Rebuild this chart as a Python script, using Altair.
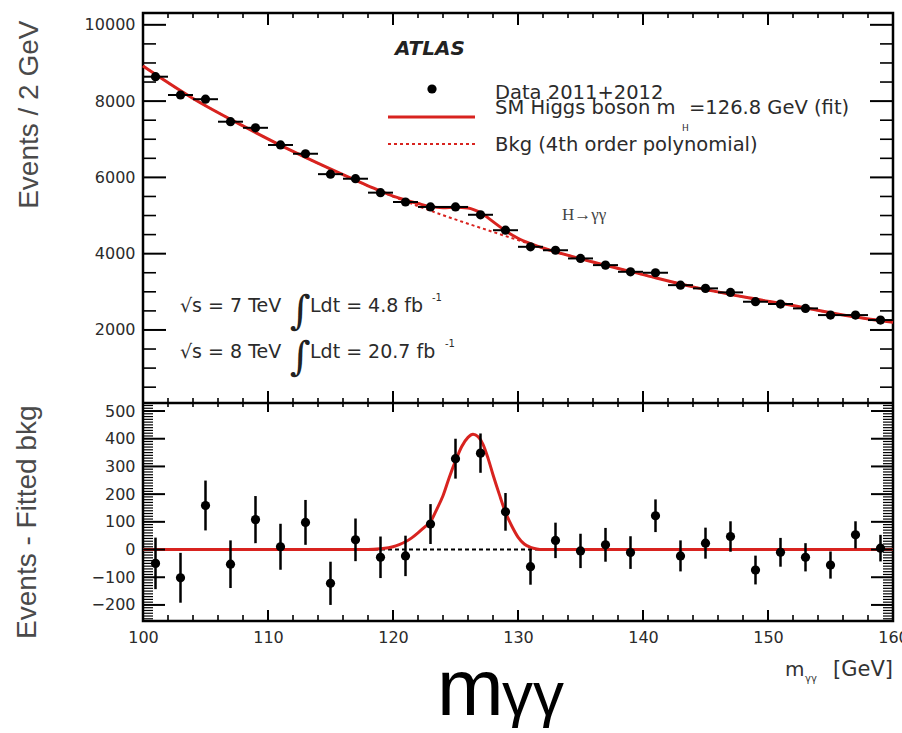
import altair as alt
import pandas as pd

# ---------------- data ----------------
mass = [101, 103, 105, 107, 109, 111, 113, 115, 117, 119, 121, 123, 125, 127, 129,
        131, 133, 135, 137, 139, 141, 143, 145, 147, 149, 151, 153, 155, 157, 159]
events = [8640, 8160, 8050, 7460, 7300, 6850, 6620, 6085, 5965, 5600, 5355, 5225, 5225, 5020, 4615,
          4180, 4090, 3875, 3700, 3525, 3500, 3175, 3090, 2985, 2740, 2680, 2565, 2390, 2390, 2260]
residual = [-50, -102, 159, -53, 108, 10, 98, -122, 35, -28, -23, 92, 328, 348, 136,
            -62, 33, -5, 17, -11, 122, -23, 23, 47, -74, -10, -28, -56, 53, 5]
residual_err = [93, 90, 90, 86, 85, 83, 81, 78, 77, 75, 73, 72, 72, 71, 68,
                65, 64, 62, 61, 59, 59, 56, 56, 55, 52, 52, 51, 49, 49, 48]

bkg_x = [100, 104, 108, 112, 116, 120, 124, 128, 132, 136, 140, 144, 148, 152, 156, 160]
bkg_y = [8920, 8070, 7350, 6680, 6070, 5500, 5010, 4570, 4150, 3780, 3450, 3130, 2870, 2640, 2390, 2200]

fit_x = [100, 104, 108, 112, 116, 118, 120, 121, 122, 123, 124, 125, 126, 126.5, 127, 128, 129,
         130, 131, 132, 136, 140, 144, 148, 152, 156, 160]
fit_y = [8920, 8070, 7350, 6680, 6070, 5780, 5510, 5406, 5315, 5233, 5204, 5220, 5195, 5149, 5075,
         4840, 4599, 4405, 4263, 4150, 3780, 3450, 3130, 2870, 2640, 2390, 2200]

sig_x = [100, 118, 119, 120, 120.5, 121, 121.5, 122, 122.5, 123, 123.5, 124, 124.5, 125, 125.5,
         126, 126.4, 126.8, 127.2, 127.6, 128, 128.5, 129, 129.5, 130, 130.5, 131, 131.5, 132, 160]
sig_y = [0, 0, 3, 10, 18, 28, 42, 60, 80, 100, 145, 194, 260, 320, 372,
         405, 416, 408, 380, 330, 270, 200, 134, 85, 45, 20, 8, 2, 0, 0]

top_y_labels = [2000, 4000, 6000, 8000, 10000]
bot_y_labels = [-200, -100, 0, 100, 200, 300, 400, 500]
x_labels = [100, 110, 120, 130, 140, 150, 160]

# ---------------- layout / style ----------------
W = 750          # plot width
H = 608          # both panels
H_TOP = 390      # upper panel height (lower panel: 218)
RED = "#d8231f"
LF = "DejaVu Sans"
TXT = "#2b2b2b"

xs = alt.Scale(domain=[100, 160], nice=False, zero=False)
# upper panel shows 85..10310 in the top 390 px; lower panel -258..529 in the bottom 218 px
ys_top = alt.Scale(domain=[-5630.5, 10310], nice=False, zero=False)
ys_bot = alt.Scale(domain=[-258, 1936.9], nice=False, zero=False)

top_yaxis = alt.Axis(orient="left", values=top_y_labels, format="d", ticks=False, tickSize=0, domain=False,
                     grid=False, labelFont=LF, labelFontSize=16, labelColor=TXT, labelPadding=8,
                     title="Events / 2 GeV", titleFont="Liberation Sans", titleFontSize=28,
                     titleFontWeight="normal", titleColor="#4a4a4a", titleAngle=270,
                     titleAlign="right", titleBaseline="top", titleX=-128, titleY=7)
bot_yaxis = alt.Axis(orient="left", values=bot_y_labels, format="d", ticks=False, tickSize=0, domain=False,
                     grid=False, labelFont=LF, labelFontSize=16, labelColor=TXT, labelPadding=8,
                     title="Events - Fitted bkg", titleFont="Liberation Sans", titleFontSize=28,
                     titleFontWeight="normal", titleColor="#4a4a4a", titleAngle=270,
                     titleAlign="right", titleBaseline="top", titleX=-130, titleY=392)
xaxis = alt.Axis(values=x_labels, format="d", ticks=False, tickSize=0, domain=False, grid=False,
                 labelFont=LF, labelFontSize=16, labelColor=TXT, labelPadding=8,
                 labelFlush=False, labelOverlap=False, title=None)

one = pd.DataFrame({"a": [0]})


def label(text, x, y, size, font=LF, color=TXT, align="left", weight="normal", style="normal"):
    return alt.Chart(one).mark_text(
        text=text, align=align, baseline="alphabetic", font=font, fontSize=size,
        color=color, fontWeight=weight, fontStyle=style
    ).encode(x=alt.value(x), y=alt.value(y))


def yticks(values, scale, length, width=2):
    df = pd.DataFrame({"v": values})
    left = alt.Chart(df).mark_rule(color="black", strokeWidth=width).encode(
        y=alt.Y("v:Q", scale=scale, axis=None), x=alt.value(0), x2=alt.value(length))
    right = alt.Chart(df).mark_rule(color="black", strokeWidth=width).encode(
        y=alt.Y("v:Q", scale=scale, axis=None), x=alt.value(W), x2=alt.value(W - length))
    return [left, right]


def xticks(values, y_edge, length, width=2):
    df = pd.DataFrame({"v": values})
    return alt.Chart(df).mark_rule(color="black", strokeWidth=width).encode(
        x=alt.X("v:Q", scale=xs, axis=xaxis), y=alt.value(y_edge), y2=alt.value(y_edge + length))


x_major = [110, 120, 130, 140, 150]
x_minor = [v for v in range(102, 160, 2) if v % 10 != 0]
top_minor = [v for v in range(500, 10300, 500) if v % 2000 != 0]
bot_minor = [v for v in range(-250, 530, 10) if v % 100 != 0]

# ---------------- upper panel ----------------
pts = pd.DataFrame({"m": mass, "n": events})
bkg = pd.DataFrame({"x": bkg_x, "y": bkg_y})
fit = pd.DataFrame({"x": fit_x, "y": fit_y})

bkg_line = alt.Chart(bkg).mark_line(color=RED, strokeWidth=2, strokeDash=[3, 3], interpolate="monotone").encode(
    x=alt.X("x:Q", scale=xs, axis=xaxis), y=alt.Y("y:Q", scale=ys_top, axis=top_yaxis))
fit_line = alt.Chart(fit).mark_line(color=RED, strokeWidth=3, interpolate="monotone").encode(
    x=alt.X("x:Q", scale=xs, axis=xaxis), y=alt.Y("y:Q", scale=ys_top, axis=None))
hbars = alt.Chart(pts).transform_calculate(lo="datum.m - 1", hi="datum.m + 1").mark_rule(
    color="black", strokeWidth=2).encode(
    x=alt.X("lo:Q", scale=xs, axis=xaxis), x2="hi:Q", y=alt.Y("n:Q", scale=ys_top, axis=None))
dots = alt.Chart(pts).mark_circle(color="black", size=85, opacity=1).encode(
    x=alt.X("m:Q", scale=xs, axis=xaxis), y=alt.Y("n:Q", scale=ys_top, axis=None))

# ---------------- lower panel ----------------
res = pd.DataFrame({"m": mass, "r": residual, "e": residual_err})
sig = pd.DataFrame({"x": sig_x, "y": sig_y})

zero = alt.Chart(pd.DataFrame({"z": [0]})).mark_rule(color="black", strokeWidth=2, strokeDash=[4, 3]).encode(
    y=alt.Y("z:Q", scale=ys_bot, axis=bot_yaxis), x=alt.value(0), x2=alt.value(W))
sig_line = alt.Chart(sig).mark_line(color=RED, strokeWidth=3, interpolate="monotone").encode(
    x=alt.X("x:Q", scale=xs, axis=xaxis), y=alt.Y("y:Q", scale=ys_bot, axis=None))
vbars = alt.Chart(res).transform_calculate(lo="datum.r - datum.e", hi="datum.r + datum.e").mark_rule(
    color="black", strokeWidth=2.5).encode(
    x=alt.X("m:Q", scale=xs, axis=xaxis), y=alt.Y("lo:Q", scale=ys_bot, axis=None), y2="hi:Q")
rdots = alt.Chart(res).mark_circle(color="black", size=85, opacity=1).encode(
    x=alt.X("m:Q", scale=xs, axis=xaxis), y=alt.Y("r:Q", scale=ys_bot, axis=None))

layers = [bkg_line, fit_line, hbars, dots, zero, sig_line, vbars, rdots]

# frame ticks (inside, ROOT style)
layers += yticks(top_y_labels, ys_top, 23, width=2)
layers += yticks(top_minor, ys_top, 13, width=1.6)
layers += yticks(bot_y_labels, ys_bot, 22, width=2)
layers += yticks(bot_minor, ys_bot, 10, width=1.2)
layers += [
    xticks(x_major, 0, 12), xticks(x_minor, 0, 5, 1.6),
    xticks(x_major, H_TOP, -12), xticks(x_minor, H_TOP, -5, 1.6),
    xticks(x_major, H_TOP, 9), xticks(x_minor, H_TOP, 4, 1.6),
    xticks(x_major, H, -11), xticks(x_minor, H, -6, 1.6),
]
# separator between the two panels
layers.append(alt.Chart(one).mark_rule(color="black", strokeWidth=2.5).encode(
    x=alt.value(0), x2=alt.value(W), y=alt.value(H_TOP)))

# legend & annotations
layers += [
    label("ATLAS", 252, 42, 20, weight="bold", style="italic", color="#222222"),
    alt.Chart(one).mark_circle(color="black", size=85, opacity=1).encode(x=alt.value(289), y=alt.value(76)),
    alt.Chart(one).mark_rule(color=RED, strokeWidth=3).encode(x=alt.value(245), x2=alt.value(332), y=alt.value(104)),
    alt.Chart(one).mark_rule(color=RED, strokeWidth=2, strokeDash=[3, 3]).encode(
        x=alt.value(245), x2=alt.value(332), y=alt.value(131)),
    label("Data 2011+2012", 352, 86, 19.5),
    label("SM Higgs boson m", 352, 101, 19.5),
    label("H", 539, 118, 9),
    label("=126.8 GeV (fit)", 546, 101, 19.5),
    label("Bkg (4th order polynomial)", 352, 138, 19.5),
    label("H\u2192\u03b3\u03b3", 419, 207, 17, font="Liberation Serif", color="#444444"),
    label("\u221as = 7 TeV", 37, 299, 19),
    label("\u222b", 147, 311, 40, font="DejaVu Serif", color="#222222"),
    label("Ldt = 4.8 fb", 167, 299, 19),
    label("-1", 289, 288, 10),
    label("\u221as = 8 TeV", 37, 345, 19),
    label("\u222b", 147, 357, 40, font="DejaVu Serif", color="#222222"),
    label("Ldt = 20.7 fb", 167, 345, 19),
    label("-1", 302, 334, 10),
    # x-axis title and the large slide label
    label("m", 642, 663, 20, color="#333333"),
    label("\u03b3\u03b3", 662, 669, 10, color="#333333"),
    label("[GeV]", W, 663, 21, align="right", color="#333333"),
    label("m", 294, 702, 80, font="Liberation Sans", color="black"),
    label("\u03b3\u03b3", 359, 702, 62, font="Liberation Sans", color="black"),
]

chart = alt.layer(*layers).resolve_scale(y="independent").properties(
    width=W, height=H,
    autosize=alt.AutoSizeParams(type="none"),
    padding={"left": 143, "top": 13, "right": 9, "bottom": 112},
    background="white",
).configure_view(stroke="black", strokeWidth=2.5)

chart.save("out.html", embed_options={"renderer": "svg", "actions": False})
